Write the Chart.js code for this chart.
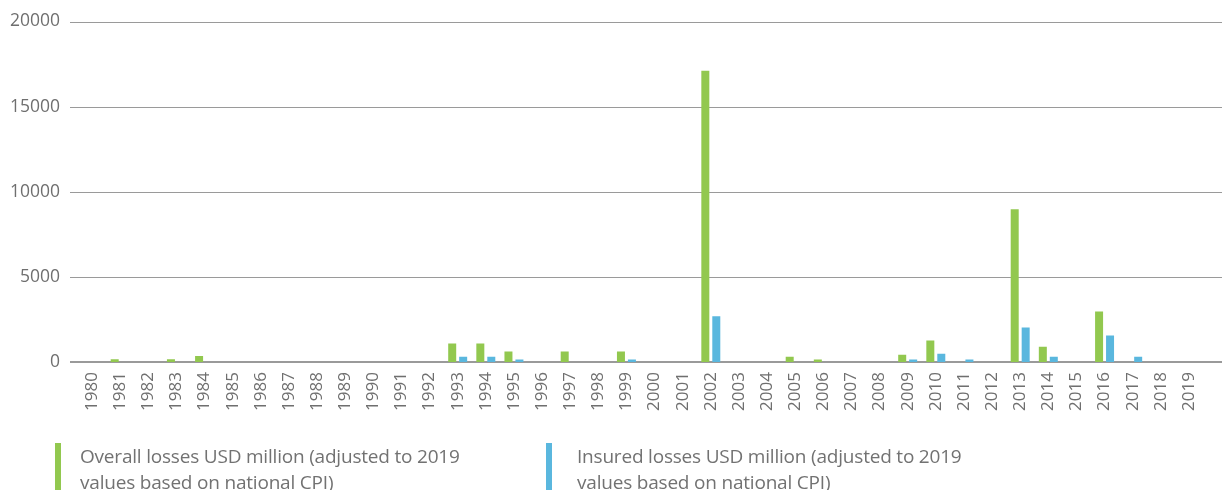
<!DOCTYPE html>
<html>
<head>
<meta charset="utf-8">
<script src="https://cdn.jsdelivr.net/npm/chart.js@4/dist/chart.umd.min.js"></script>
<style>
  body { margin: 0; background: #fff; }
  #wrap { position: relative; width: 1222px; height: 490px; overflow: hidden; }
  #chart { position: absolute; left: 0; top: -7px; }
  .leg { position: absolute; top: 443px; height: 50px; font-family: "Open Sans", sans-serif;
         font-size: 19px; line-height: 26px; color: #727272; }
  .leg .sw { position: absolute; left: 0; top: 0; width: 6px; height: 50px; }
  .leg .tx { position: absolute; top: 0px; white-space: nowrap; letter-spacing: -0.2px; }
</style>
</head>
<body>
<div id="wrap">
  <canvas id="chart" width="1222" height="497"></canvas>
  <div class="leg" style="left:55px"><div class="sw" style="background:#92c84f"></div><div class="tx" style="left:25px">Overall losses USD million (adjusted to 2019<br>values based on national CPI)</div></div>
  <div class="leg" style="left:546px"><div class="sw" style="background:#5ab7de"></div><div class="tx" style="left:31px">Insured losses USD million (adjusted to 2019<br>values based on national CPI)</div></div>
</div>
<script>
var years = [];
for (var y = 1980; y <= 2019; y++) years.push(String(y));

var overall = [0, 160, 0, 160, 350, 0, 0, 0, 0, 0,
               0, 0, 0, 1080, 1080, 610, 0, 610, 0, 610,
               0, 0, 17100, 0, 0, 310, 140, 0, 0, 430,
               1260, 0, 0, 8970, 900, 0, 2970, 0, 0, 0];
var insured = [0, 0, 0, 0, 0, 0, 0, 0, 0, 0,
               0, 0, 0, 310, 310, 140, 0, 0, 0, 140,
               0, 0, 2690, 0, 0, 0, 0, 0, 0, 140,
               490, 140, 0, 2020, 310, 0, 1550, 310, 0, 0];
var yTicks = [0, 5000, 10000, 15000, 20000];

// horizontal grid lines run wider than the category area
var gridPlugin = {
  id: 'wideGrid',
  beforeDatasetsDraw: function(chart) {
    var ctx = chart.ctx, ys = chart.scales.y;
    ctx.save();
    yTicks.forEach(function(v) {
      var py = Math.round(ys.getPixelForValue(v));
      ctx.beginPath();
      ctx.strokeStyle = '#9a9a9a';
      ctx.lineWidth = v === 0 ? 2 : 1;
      var off = v === 0 ? 0 : 0.5;
      ctx.moveTo(70, py + off);
      ctx.lineTo(1222, py + off);
      ctx.stroke();
    });
    ctx.restore();
  }
};

var ctx = document.getElementById('chart').getContext('2d');
var chart = new Chart(ctx, {
  type: 'bar',
  data: {
    labels: years,
    datasets: [{
      label: 'Overall losses',
      data: overall,
      backgroundColor: '#92c84f',
      categoryPercentage: 0.78,
      barPercentage: 0.73
    }, {
      label: 'Insured losses',
      data: insured,
      backgroundColor: '#5ab7de',
      categoryPercentage: 0.78,
      barPercentage: 0.73
    }]
  },
  options: {
    responsive: false,
    animation: false,
    layout: { padding: { top: 11, right: 19, left: 0, bottom: 0 } },
    plugins: { legend: { display: false }, tooltip: { enabled: false } },
    scales: {
      x: {
        grid: { display: false, drawTicks: false },
        border: { display: false },
        ticks: {
          autoSkip: false, maxRotation: 90, minRotation: 90, padding: 10,
          color: '#6f6f6f', font: { family: 'Open Sans', size: 17 }
        },
        afterFit: function(s) { s.height = 128; }
      },
      y: {
        min: 0, max: 20000,
        grid: { display: false, drawTicks: false },
        border: { display: false },
        afterBuildTicks: function(s) { s.ticks = yTicks.map(function(v) { return { value: v }; }); },
        ticks: {
          padding: 18, color: '#6f6f6f', font: { family: 'Open Sans', size: 17.5 },
          callback: function(v) { return v; }
        },
        afterFit: function(s) { s.width = 78; }
      }
    }
  },
  plugins: [gridPlugin]
});
</script>
</body>
</html>
